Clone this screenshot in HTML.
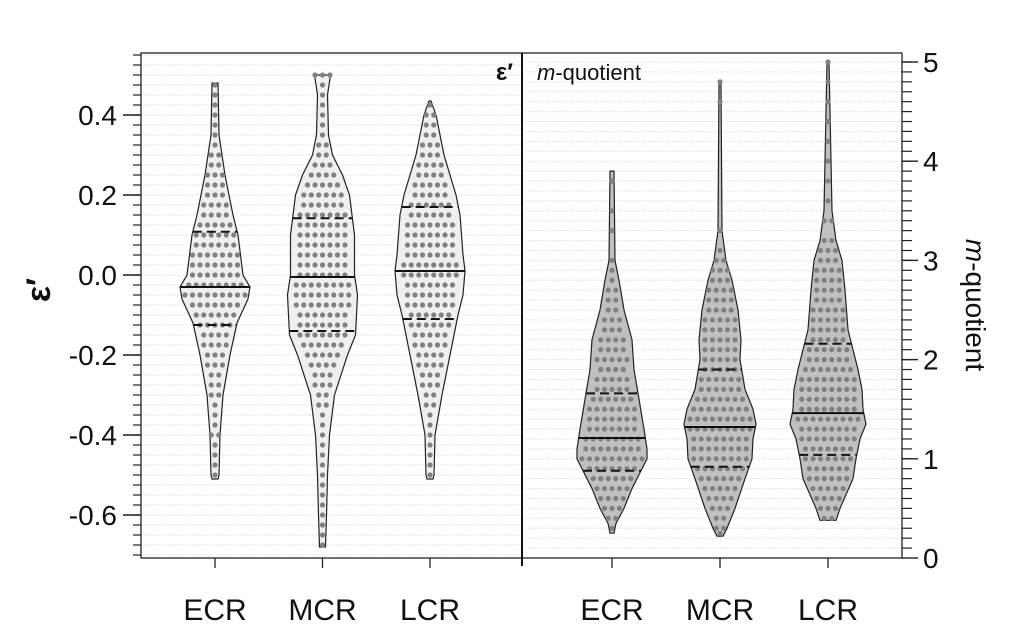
<!DOCTYPE html>
<html><head><meta charset="utf-8"><style>
html,body{margin:0;padding:0;background:#fff;}
svg{display:block;font-family:"Liberation Sans",sans-serif;}
</style></head><body>
<svg id="chart" width="1023" height="636" viewBox="0 0 1023 636" xmlns="http://www.w3.org/2000/svg" style="position:absolute;left:0;top:0">
<g id="grid"></g>
<g id="violins"></g>
<g id="axes"></g>
</svg>
<script>
const categories = ["ECR","MCR","LCR"];
const epsTicks = [0.4,0.2,0.0,-0.2,-0.4,-0.6];
const epsTickLabels = ["0.4","0.2","0.0","-0.2","-0.4","-0.6"];
const mqTicks = [0,1,2,3,4,5];
// density profiles: [value, relative half-width]
const epsProfileECR = [[0.48,3],[0.35,4],[0.25,10],[0.15,18],[0.1,23],[0.0,28],[-0.03,35],[-0.06,33],[-0.12,22],[-0.2,15],[-0.3,8],[-0.4,5],[-0.5,4],[-0.51,3]];
const epsProfileMCR = [[0.5,8],[0.45,5],[0.35,6],[0.3,10],[0.25,20],[0.2,27],[0.1,32],[0.0,32],[-0.05,35],[-0.15,33],[-0.2,25],[-0.3,12],[-0.4,7],[-0.5,5],[-0.6,4],[-0.68,3]];
const epsProfileLCR = [[0.435,1],[0.4,6],[0.3,14],[0.2,26],[0.15,30],[0.05,33],[0.01,35],[-0.05,33],[-0.1,28],[-0.2,20],[-0.3,12],[-0.4,5],[-0.5,4],[-0.51,3]];
const mqProfileECR = [[3.9,2],[3.0,3],[2.8,7],[2.5,12],[2.2,20],[1.9,22],[1.6,27],[1.3,32],[1.1,35],[1.0,35],[0.9,30],[0.7,20],[0.5,12],[0.35,4],[0.25,2]];
const mqProfileMCR = [[4.8,1],[3.3,2],[3.0,6],[2.8,12],[2.5,18],[2.2,21],[2.0,20],[1.7,25],[1.5,33],[1.35,36],[1.2,33],[1.0,32],[0.8,25],[0.5,15],[0.3,7],[0.22,3]];
const mqProfileLCR = [[5.0,1],[4.5,2],[3.5,4],[3.2,8],[3.0,14],[2.7,17],[2.3,20],[1.9,30],[1.7,34],[1.5,35],[1.35,38],[1.2,32],[1.0,28],[0.8,25],[0.5,12],[0.38,8]];
// quartiles [q1, median, q3]
const epsQuartECR = [-0.125,-0.03,0.108];
const epsQuartMCR = [-0.14,-0.005,0.142];
const epsQuartLCR = [-0.11,0.01,0.17];
const mqQuartECR = [0.88,1.21,1.66];
const mqQuartMCR = [0.92,1.32,1.9];
const mqQuartLCR = [1.04,1.46,2.16];
// observations as value bins + counts
const epsValsECR = [0.475,0.45,0.425,0.4,0.375,0.35,0.325,0.3,0.275,0.25,0.225,0.2,0.175,0.15,0.125,0.1,0.075,0.05,0.025,0,-0.025,-0.05,-0.075,-0.1,-0.125,-0.15,-0.175,-0.2,-0.225,-0.25,-0.275,-0.3,-0.325,-0.35,-0.375,-0.4,-0.425,-0.45,-0.475,-0.5];
const epsCntsECR = [1,1,1,1,1,1,1,2,2,3,3,3,4,4,5,6,6,7,7,7,8,9,7,6,5,4,4,3,3,2,2,2,1,1,1,2,1,1,1,1];
const epsValsMCR = [0.5,0.475,0.45,0.425,0.4,0.375,0.35,0.325,0.3,0.275,0.25,0.225,0.2,0.175,0.15,0.125,0.1,0.075,0.05,0.025,0,-0.025,-0.05,-0.075,-0.1,-0.125,-0.15,-0.175,-0.2,-0.225,-0.25,-0.275,-0.3,-0.325,-0.35,-0.375,-0.4,-0.425,-0.45,-0.475,-0.5,-0.525,-0.55,-0.575,-0.6,-0.625,-0.65,-0.675];
const epsCntsMCR = [3,1,1,1,1,1,1,2,2,3,4,5,6,6,7,7,7,7,7,7,7,8,8,8,7,7,7,6,5,4,3,3,2,2,1,1,1,1,1,1,1,1,1,1,1,1,1,1];
const epsValsLCR = [0.425,0.4,0.375,0.35,0.325,0.3,0.275,0.25,0.225,0.2,0.175,0.15,0.125,0.1,0.075,0.05,0.025,0,-0.025,-0.05,-0.075,-0.1,-0.125,-0.15,-0.175,-0.2,-0.225,-0.25,-0.275,-0.3,-0.325,-0.35,-0.375,-0.4,-0.425,-0.45,-0.475,-0.5];
const epsCntsLCR = [1,2,2,2,3,3,4,4,5,5,6,6,7,7,7,7,8,8,7,7,7,6,6,5,5,4,4,3,3,2,2,1,1,1,1,1,1,1];
const mqValsECR = [3.8,3.5,3.3,3.0,2.9,2.8,2.7,2.6,2.5,2.4,2.3,2.2,2.1,2.0,1.9,1.8,1.7,1.6,1.5,1.4,1.3,1.2,1.1,1.0,0.9,0.8,0.7,0.6,0.5,0.4,0.3];
const mqCntsECR = [1,1,1,1,1,1,2,2,2,3,3,4,4,5,4,5,5,6,7,7,7,8,8,9,7,6,5,4,3,2,1];
const mqValsMCR = [4.8,4.6,3.3,3.1,3.0,2.9,2.8,2.7,2.6,2.5,2.4,2.3,2.2,2.1,2.0,1.9,1.8,1.7,1.6,1.5,1.4,1.3,1.2,1.1,1.0,0.9,0.8,0.7,0.6,0.5,0.4,0.3,0.25];
const mqCntsMCR = [1,1,1,1,2,3,3,4,4,4,5,5,5,5,5,5,6,6,7,8,9,9,8,8,8,7,6,5,4,3,2,2,1];
const mqValsLCR = [5.0,4.8,4.6,4.4,4.2,4.0,3.8,3.6,3.4,3.2,3.1,3.0,2.9,2.8,2.7,2.6,2.5,2.4,2.3,2.2,2.1,2.0,1.9,1.8,1.7,1.6,1.5,1.4,1.3,1.2,1.1,1.0,0.9,0.8,0.7,0.6,0.5,0.4];
const mqCntsLCR = [1,1,1,1,1,1,1,1,2,2,3,3,4,4,4,4,5,5,5,5,6,6,7,8,8,8,8,9,8,8,7,7,6,6,5,4,3,2];

const NS="http://www.w3.org/2000/svg";
const L=141,R=902,T=53,B=558,MID=522;
const yE=v=>275-v*400;
const yM=v=>558-v*99.2;
const xLeft=i=>215+i*107.5;
const xRight=i=>612+i*108;
function mk(tag,attrs,parent){const e=document.createElementNS(NS,tag);for(const k in attrs)e.setAttribute(k,attrs[k]);parent.appendChild(e);return e;}
const grid=document.getElementById('grid'),vg=document.getElementById('violins'),ax=document.getElementById('axes');

for(let y=yE(0.55);y<=B;y+=10){
  const g=mk('line',{x1:L,x2:MID,y1:y,y2:y,stroke:'#ddd','stroke-width':1,'stroke-dasharray':'1.5,1.5'},grid);
  
  
}
for(let v=0.1;v<5.0;v+=0.1){
  const y=yM(v);
  const g=mk('line',{x1:MID,x2:R,y1:y,y2:y,stroke:'#ddd','stroke-width':1,'stroke-dasharray':'1.5,1.5'},grid);
  
  
}

function interpW(prof,v){
  for(let i=0;i<prof.length-1;i++){const a=prof[i],b=prof[i+1];
    if(v<=a[0]&&v>=b[0]){const t=(a[0]-v)/(a[0]-b[0]);return a[1]+(b[1]-a[1])*t;}}
  return 0;
}
function violin(prof,quart,vals,cnts,cx,ys,fill,name){
  const g=mk('g',{},vg);
  
  
  let d='';
  prof.forEach((p,i)=>{d+=(i?'L':'M')+(cx+p[1])+','+ys(p[0]);});
  for(let i=prof.length-1;i>=0;i--){d+='L'+(cx-prof[i][1])+','+ys(prof[i][0]);}
  d+='Z';
  const sh=mk('path',{d:d,fill:fill,stroke:'#222','stroke-width':1.2},g);
  
  
  vals.forEach((v,i)=>{
    const n=cnts[i];
    for(let k=0;k<n;k++){
      const off=(k-(n-1)/2)*7.5;
      const c=mk('circle',{cx:cx+off,cy:ys(v),r:2.6,fill:'#808080'},g);
      
      
    }
  });
  quart.forEach((q,i)=>{
    const w=interpW(prof,q);
    const ln=mk('line',{x1:cx-w,x2:cx+w,y1:ys(q),y2:ys(q),stroke:'#111','stroke-width':2,'stroke-dasharray':i===1?'none':'9,5'},g);
    
    
  });
}
violin(epsProfileECR,epsQuartECR,epsValsECR,epsCntsECR,xLeft(0),yE,'#efefef','eps-ecr-violin');
violin(epsProfileMCR,epsQuartMCR,epsValsMCR,epsCntsMCR,xLeft(1),yE,'#efefef','eps-mcr-violin');
violin(epsProfileLCR,epsQuartLCR,epsValsLCR,epsCntsLCR,xLeft(2),yE,'#efefef','eps-lcr-violin');
violin(mqProfileECR,mqQuartECR,mqValsECR,mqCntsECR,xRight(0),yM,'#c0c0c0','mq-ecr-violin');
violin(mqProfileMCR,mqQuartMCR,mqValsMCR,mqCntsMCR,xRight(1),yM,'#c0c0c0','mq-mcr-violin');
violin(mqProfileLCR,mqQuartLCR,mqValsLCR,mqCntsLCR,xRight(2),yM,'#c0c0c0','mq-lcr-violin');

const fr=mk('rect',{x:L,y:T,width:R-L,height:B-T,fill:'none',stroke:'#222','stroke-width':1.3},ax);


const dv=mk('line',{x1:MID,x2:MID,y1:T,y2:B+8,stroke:'#111','stroke-width':2},ax);



for(let y=yE(0.55);y<=B;y+=10){
  const t=mk('line',{x1:133,x2:L,y1:y,y2:y,stroke:'#222','stroke-width':1.2},ax);
  
  
}
epsTicks.forEach((v,i)=>{
  const y=yE(v);
  const t=mk('line',{x1:123,x2:L,y1:y,y2:y,stroke:'#222','stroke-width':1.4},ax);
  
  
  const tx=mk('text',{x:117,y:y+10,'text-anchor':'end','font-size':28,fill:'#111'},ax);
  tx.textContent=epsTickLabels[i];
  
  
});
for(let v=0.1;v<5.05;v+=0.1){
  const y=yM(v);
  const t=mk('line',{x1:R,x2:912,y1:y,y2:y,stroke:'#222','stroke-width':1.2},ax);
  
  
}
mqTicks.forEach(v=>{
  const y=yM(v);
  const t=mk('line',{x1:R,x2:918,y1:y,y2:y,stroke:'#222','stroke-width':1.4},ax);
  
  
  const tx=mk('text',{x:923,y:y+10,'font-size':28,fill:'#111'},ax);
  tx.textContent=String(v);
  
  
});
categories.forEach((c,i)=>{
  [xLeft(i),xRight(i)].forEach((x,j)=>{
    const t=mk('line',{x1:x,x2:x,y1:B,y2:B+10,stroke:'#222','stroke-width':1.3},ax);
    
    
    const tx=mk('text',{x:x,y:620,'text-anchor':'middle','font-size':30,fill:'#111'},ax);
    tx.textContent=c;
    
    
  });
});
</script>
<svg style="position:absolute;left:0;top:0" width="1023" height="636">
<text x="513" y="80" text-anchor="end" font-size="24" font-family="Liberation Sans, sans-serif" font-weight="bold" fill="#111">ε′</text>
<text x="537" y="80" font-size="22" font-family="Liberation Sans, sans-serif" fill="#111"><tspan font-style="italic">m</tspan>-quotient</text>
<text transform="translate(50,290) rotate(-90)" text-anchor="middle" font-size="34" font-weight="bold" font-family="Liberation Sans, sans-serif" fill="#111">ε′</text>
<text transform="translate(966,305) rotate(90)" text-anchor="middle" font-size="28" font-family="Liberation Sans, sans-serif" fill="#111"><tspan font-style="italic">m</tspan>-quotient</text>
</svg>
</body></html>
